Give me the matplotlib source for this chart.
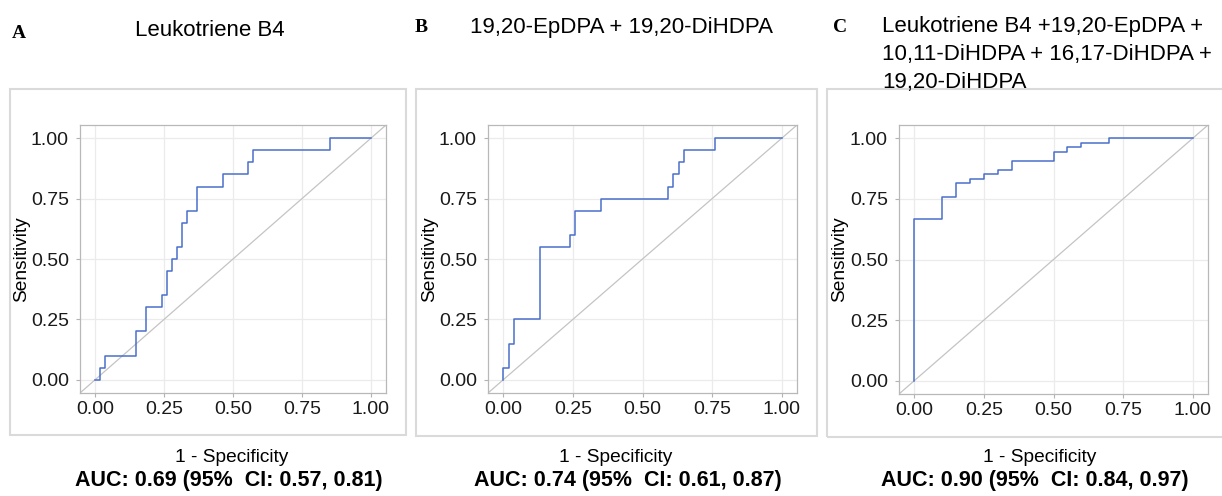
import matplotlib.pyplot as plt
from matplotlib.patches import Rectangle

# ROC corner points (1 - specificity, sensitivity)
fpr_a = [0, 0.019, 0.037, 0.148, 0.185, 0.241, 0.259, 0.278, 0.296, 0.315, 0.333, 0.370, 0.463, 0.556, 0.574, 0.852, 1.0]
tpr_a = [0, 0.05, 0.10, 0.20, 0.30, 0.35, 0.45, 0.50, 0.55, 0.65, 0.70, 0.80, 0.85, 0.90, 0.95, 1.0, 1.0]

fpr_b = [0, 0, 0.019, 0.037, 0.130, 0.241, 0.259, 0.352, 0.593, 0.611, 0.630, 0.648, 0.759, 1.0]
tpr_b = [0, 0.05, 0.15, 0.25, 0.55, 0.60, 0.70, 0.75, 0.80, 0.85, 0.90, 0.95, 1.0, 1.0]

fpr_c = [0, 0, 0.10, 0.15, 0.20, 0.25, 0.30, 0.35, 0.50, 0.55, 0.60, 0.70, 1.0]
tpr_c = [0, 0.667, 0.759, 0.815, 0.833, 0.852, 0.870, 0.907, 0.944, 0.963, 0.981, 1.0, 1.0]

letters = ['A', 'B', 'C']
titles = [['Leukotriene B4'],
          ['19,20-EpDPA + 19,20-DiHDPA'],
          ['Leukotriene B4 +19,20-EpDPA +', '10,11-DiHDPA + 16,17-DiHDPA +', '19,20-DiHDPA']]
auc_labels = ['AUC: 0.69 (95%  CI: 0.57, 0.81)',
              'AUC: 0.74 (95%  CI: 0.61, 0.87)',
              'AUC: 0.90 (95%  CI: 0.84, 0.97)']
ticks = [0, 0.25, 0.5, 0.75, 1.0]
tick_labels = ['0.00', '0.25', '0.50', '0.75', '1.00']

W, H = 1222, 496
plt.rcParams['font.family'] = ['Liberation Sans', 'DejaVu Sans']

fig = plt.figure(figsize=(W / 100, H / 100), dpi=100)

def fx(px):
    return px / W

def fy(py):
    return 1 - py / H

# layout in pixels: box, axes, letter, title, ylabel x, xlabel x, auc x
layout = [
    dict(box=(10, 89, 406, 435), ax=(80, 125, 386, 393), let=(12, 38), tit=(135, 36), yl=22, xl=232, auc=229),
    dict(box=(416, 89, 817, 436), ax=(488, 125, 797, 393), let=(415, 32), tit=(470, 33), yl=430, xl=616, auc=628),
    dict(box=(827, 89, 1230, 437), ax=(899, 125, 1208, 394), let=(833, 32), tit=(882, 32), yl=840, xl=1040, auc=1035),
]
curves = [(fpr_a, tpr_a), (fpr_b, tpr_b), (fpr_c, tpr_c)]

for i in range(3):
    L = layout[i]
    x0, y0, x1, y1 = L['box']
    fig.patches.append(Rectangle((fx(x0), fy(y1)), fx(x1 - x0), (y1 - y0) / H,
                                 transform=fig.transFigure, fill=False,
                                 edgecolor='#DADADA', lw=1.5))
    a0, b0, a1, b1 = L['ax']
    ax = fig.add_axes([fx(a0), fy(b1), fx(a1 - a0), (b1 - b0) / H])
    fpr, tpr = curves[i]
    ax.axline((0, 0), (1, 1), color='#C4C4C4', lw=0.9, zorder=2)
    ax.step(fpr, tpr, where='post', color='#4A6FCB', lw=1.1, zorder=3)
    ax.set_xlim(-0.055, 1.055)
    ax.set_ylim(-0.055, 1.055)
    ax.set_xticks(ticks)
    ax.set_xticklabels(tick_labels)
    ax.set_yticks(ticks)
    ax.set_yticklabels(tick_labels)
    ax.grid(True, color='#EBEBEB', lw=0.9, zorder=0)
    ax.set_axisbelow(True)
    ax.tick_params(labelsize=14, length=3, color='#B3B3B3', labelcolor='#1A1A1A')
    ax.tick_params(axis='x', pad=3)
    ax.tick_params(axis='y', pad=5)
    for s in ax.spines.values():
        s.set_color('#B8B8B8')
        s.set_linewidth(0.9)

    fig.text(fx(L['let'][0]), fy(L['let'][1]), letters[i], family='Liberation Serif',
             fontweight='bold', fontsize=14, va='baseline')
    for k, line in enumerate(titles[i]):
        fig.text(fx(L['tit'][0]), fy(L['tit'][1] + 28 * k), line, fontsize=16, va='baseline')
    fig.text(fx(L['yl']), fy((b0 + b1) / 2), 'Sensitivity', rotation=90,
             fontsize=13.8, ha='center', va='center')
    fig.text(fx(L['xl']), fy(462), '1 - Specificity', fontsize=13.8, ha='center', va='baseline')
    fig.text(fx(L['auc']), fy(486), auc_labels[i], fontsize=15.5, fontweight='bold',
             ha='center', va='baseline')

fig.savefig('out.png', dpi=100)
